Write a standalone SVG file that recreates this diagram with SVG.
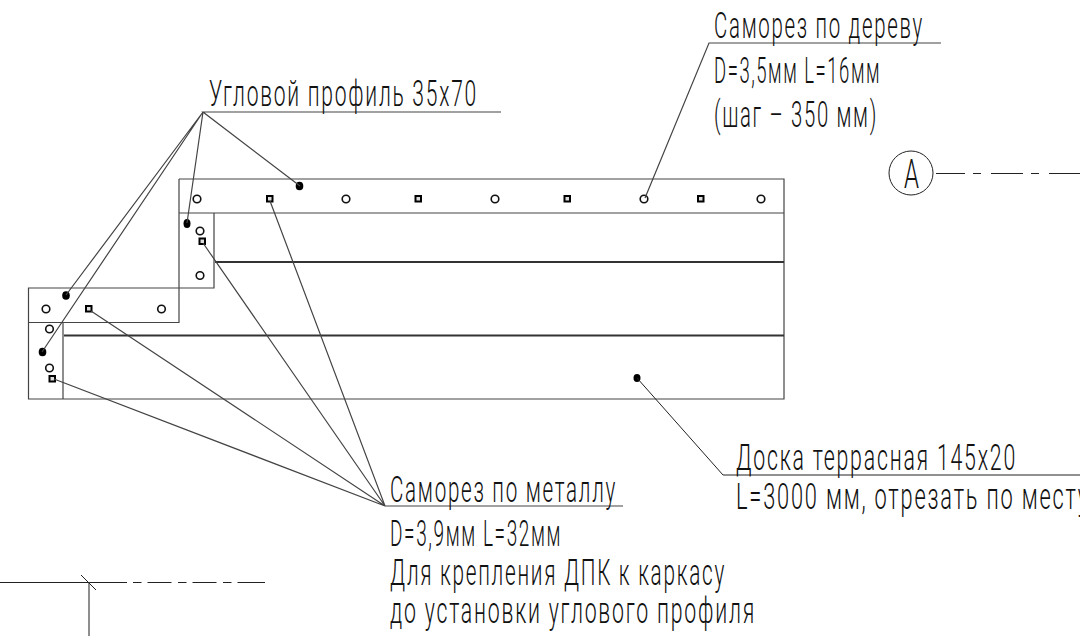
<svg xmlns="http://www.w3.org/2000/svg" width="1080" height="636" viewBox="0 0 1080 636">
<style>
.l{fill:none;stroke:#444;stroke-width:1.2}
.b{fill:none;stroke:#333;stroke-width:2}
.k{fill:none;stroke:#222;stroke-width:1}
.c{fill:#fff;stroke:#111;stroke-width:1.6}
.s{fill:#ddd;stroke:#000;stroke-width:2}
.d{fill:#000;stroke:none}
text{font-family:"Roboto","Liberation Sans",sans-serif;font-weight:300;font-size:36px;letter-spacing:3px;fill:#111}
</style>
<rect width="1080" height="636" fill="#fff"/>
<g id="profile">
<path class="l" d="M179 179H784V213H214V288H179V322.500H28.500V288H179V213M179 179V213H214M63 322.500V399M28.500 322.500V399H784V337M784 213V337"/>
</g>
<g id="boards">
<path class="b" d="M215 262H784M64 335.500H784"/>
</g>
<g id="fasteners">
<circle class="c" cx="197" cy="199" r="3.800"/><circle class="c" cx="346" cy="199" r="3.800"/><circle class="c" cx="495" cy="199" r="3.800"/><circle class="c" cx="644" cy="199" r="3.800"/><circle class="c" cx="761" cy="199" r="3.800"/>
<rect class="s" x="267" y="196" width="5.500" height="5.500"/><rect class="s" x="415.500" y="196" width="5.500" height="5.500"/><rect class="s" x="564.500" y="196" width="5.500" height="5.500"/><rect class="s" x="698" y="196" width="5.500" height="5.500"/>
<circle class="c" cx="200" cy="231" r="3.800"/><rect class="s" x="199.500" y="238.500" width="5.500" height="5.500"/><circle class="c" cx="200" cy="275.500" r="3.800"/>
<circle class="c" cx="46" cy="309" r="3.800"/><rect class="s" x="86" y="306" width="5.500" height="5.500"/><circle class="c" cx="161.500" cy="309" r="3.800"/>
<circle class="c" cx="49.500" cy="329" r="3.800"/><circle class="c" cx="49.500" cy="368" r="3.800"/><rect class="s" x="49.500" y="376" width="5.500" height="5.500"/>
<ellipse class="d" cx="66" cy="295.500" rx="3.800" ry="4.300"/><ellipse class="d" cx="42.500" cy="352" rx="3.800" ry="4.300"/><ellipse class="d" cx="187" cy="223.500" rx="3.500" ry="4.500"/><ellipse class="d" cx="299.500" cy="186" rx="3.800" ry="4.300"/><ellipse class="d" cx="637" cy="378" rx="3.500" ry="4"/>
</g>
<g id="connectors">
<path class="l" d="M501 112H203L300 186M203 112L187 223M203 112L66 295M203 112L42 352"/>
<path class="l" d="M623 506H385L270 201M385 506L203 243M385 506L91 311M385 506L54 379"/>
<path class="l" d="M941 43H709L645 198"/>
<path class="k" d="M1080 475H723L637 378"/>
<path class="k" d="M936 173.500H1080" stroke-dasharray="32 8 8 10" stroke-dashoffset="3"/>
<path class="k" d="M0 582.500H127"/><path class="k" d="M133 582.500H265" stroke-dasharray="8.500 6 24 6.500 8.500 6 24 6.500 8.500 6 28"/>
<path class="l" d="M89 582V636"/><path class="k" d="M81 575L96 590"/>
</g>
<g id="marker-a"><circle cx="911" cy="173" r="22" fill="#fff" stroke="#222" stroke-width="1"/><text x="904" y="188" style="font-size:41px;letter-spacing:0" textLength="15" lengthAdjust="spacingAndGlyphs">A</text></g>
<g id="labels">
<text x="209" y="106" textLength="269" lengthAdjust="spacingAndGlyphs">Угловой профиль 35х70</text>
<text x="714" y="38" textLength="210" lengthAdjust="spacingAndGlyphs">Саморез по дереву</text>
<text x="714" y="83" textLength="167" lengthAdjust="spacingAndGlyphs">D=3,5мм L=16мм</text>
<text x="714" y="127" textLength="164" lengthAdjust="spacingAndGlyphs">(шаг – 350 мм)</text>
<text x="736" y="470" textLength="281" lengthAdjust="spacingAndGlyphs">Доска террасная 145х20</text>
<text x="736" y="509" textLength="354" lengthAdjust="spacingAndGlyphs">L=3000 мм, отрезать по месту</text>
<text x="390" y="502" textLength="227" lengthAdjust="spacingAndGlyphs">Саморез по металлу</text>
<text x="390" y="546" textLength="172" lengthAdjust="spacingAndGlyphs">D=3,9мм L=32мм</text>
<text x="390" y="585" textLength="336" lengthAdjust="spacingAndGlyphs">Для крепления ДПК к каркасу</text>
<text x="390" y="623" textLength="366" lengthAdjust="spacingAndGlyphs">до установки углового профиля</text>
</g>
</svg>
